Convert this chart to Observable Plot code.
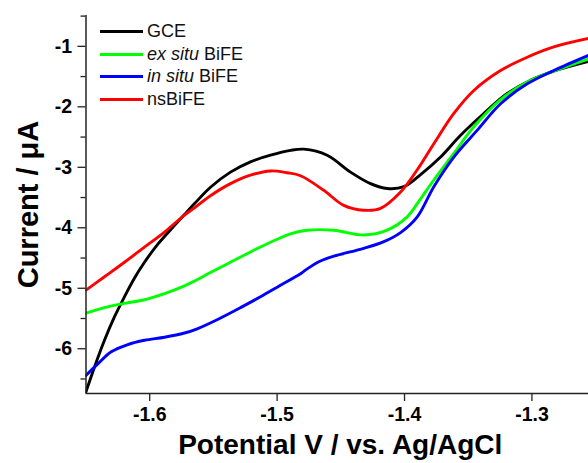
<!DOCTYPE html>
<html>
<head>
<meta charset="utf-8">
<script src="https://cdn.jsdelivr.net/npm/d3@7"></script>
<script src="https://cdn.jsdelivr.net/npm/@observablehq/plot@0.6"></script>
<style>
  html, body { margin: 0; padding: 0; background: #fff; }
  #wrap { position: relative; width: 588px; height: 463px; font-family: "Liberation Sans", Arial, sans-serif; }
  #legend { position: absolute; left: 100px; top: 20.5px; font-size: 18px; color: #111; }
  #legend .row { height: 22.5px; display: flex; align-items: center; }
  #legend .sw { width: 43px; height: 3px; margin-right: 4px; }
</style>
</head>
<body>
<div id="wrap"><div id="legend"></div></div>
<script>
// GCE
const gceV = [-1.65, -1.6433, -1.6355, -1.6276, -1.6198, -1.6119, -1.6041, -1.5936, -1.5831, -1.5727, -1.5648, -1.5523, -1.5366, -1.5209, -1.5052, -1.4895, -1.479, -1.4607, -1.4424, -1.4267, -1.4136, -1.4005, -1.3874, -1.3717, -1.356, -1.3378, -1.3194, -1.301, -1.2828, -1.2556];
const gceI = [-6.71, -6.30, -5.86, -5.47, -5.14, -4.83, -4.57, -4.27, -4.02, -3.78, -3.60, -3.33, -3.08, -2.91, -2.80, -2.72, -2.70, -2.80, -3.08, -3.27, -3.35, -3.32, -3.12, -2.83, -2.47, -2.11, -1.78, -1.56, -1.41, -1.25];
// ex situ BiFE
const exV = [-1.65, -1.6355, -1.6198, -1.6041, -1.5884, -1.5727, -1.5648, -1.5523, -1.5366, -1.5209, -1.5052, -1.4895, -1.4764, -1.4555, -1.432, -1.4136, -1.3979, -1.39, -1.377, -1.3613, -1.3456, -1.3246, -1.3037, -1.2828, -1.2556];
const exI = [-5.41, -5.32, -5.25, -5.19, -5.09, -4.96, -4.88, -4.74, -4.57, -4.40, -4.24, -4.10, -4.04, -4.04, -4.12, -4.04, -3.82, -3.60, -3.21, -2.77, -2.33, -1.88, -1.59, -1.41, -1.21];
// in situ BiFE
const inV = [-1.65, -1.6407, -1.6302, -1.6172, -1.6041, -1.5884, -1.5727, -1.5627, -1.5471, -1.5287, -1.513, -1.4974, -1.4816, -1.4764, -1.466, -1.4555, -1.432, -1.4162, -1.4031, -1.39, -1.377, -1.3613, -1.343, -1.3246, -1.3037, -1.2828, -1.2556];
const inI = [-6.44, -6.25, -6.05, -5.93, -5.86, -5.81, -5.74, -5.67, -5.52, -5.32, -5.14, -4.95, -4.76, -4.68, -4.55, -4.47, -4.34, -4.23, -4.08, -3.82, -3.32, -2.83, -2.39, -1.95, -1.62, -1.40, -1.15];
// nsBiFE
const nsV = [-1.65, -1.6355, -1.6198, -1.6041, -1.5884, -1.5727, -1.5648, -1.5523, -1.5366, -1.5209, -1.5052, -1.4921, -1.4816, -1.4634, -1.4477, -1.432, -1.4188, -1.4031, -1.39, -1.377, -1.3613, -1.3456, -1.3246, -1.3037, -1.2828, -1.2556];
const nsI = [-5.03, -4.81, -4.57, -4.32, -4.07, -3.79, -3.67, -3.47, -3.27, -3.13, -3.06, -3.09, -3.14, -3.38, -3.63, -3.71, -3.68, -3.41, -3.04, -2.61, -2.11, -1.73, -1.40, -1.18, -1.01, -0.87];

const seriesNames = ["GCE", "ex situ BiFE", "in situ BiFE", "nsBiFE"];
const seriesLabelsHTML = ["GCE", "<i>ex situ</i> BiFE", "<i>in situ</i> BiFE", "nsBiFE"];
const seriesColors = ["#000000", "#00ff00", "#0000ff", "#ff0000"];
const xTicks = [-1.6, -1.5, -1.4, -1.3];
const yTicks = [-1, -2, -3, -4, -5, -6];
const yMinorTicks = [-0.5, -1.5, -2.5, -3.5, -4.5, -5.5, -6.5];
const xDomain = [-1.65, -1.2556];
const yDomain = [-6.74, -0.49];

const build = (name, V, I) => V.map((v, i) => ({series: name, v, i: I[i]}));
const data = [
  ...build(seriesNames[0], gceV, gceI),
  ...build(seriesNames[1], exV, exI),
  ...build(seriesNames[2], inV, inI),
  ...build(seriesNames[3], nsV, nsI)
];

const font = "'Liberation Sans', Arial, sans-serif";
const plot = Plot.plot({
  width: 588,
  height: 463,
  marginLeft: 85.5,
  marginRight: 0,
  marginTop: 15,
  marginBottom: 70,
  style: {fontFamily: font, background: "transparent", overflow: "visible"},
  x: {domain: xDomain},
  y: {domain: yDomain},
  color: {domain: seriesNames, range: seriesColors},
  marks: [
    Plot.line(data, {x: "v", y: "i", z: "series", stroke: "series", strokeWidth: 2.9, curve: "catmull-rom", clip: true}),
    Plot.ruleX([xDomain[0]], {stroke: "#222", strokeWidth: 1.5}),
    Plot.ruleY([yDomain[0]], {stroke: "#222", strokeWidth: 1.5}),
    Plot.axisY({ticks: yTicks, tickSize: 8, tickPadding: 6, tickFormat: d => String(d), fontSize: 19.5, fontWeight: "bold", label: null, stroke: "#222", strokeWidth: 1.3, fill: "#000"}),
    Plot.axisY({ticks: yMinorTicks, tickSize: 5, text: null, label: null, stroke: "#222", strokeWidth: 1.3}),
    Plot.axisX({ticks: xTicks, tickSize: 8, tickPadding: 6, tickFormat: d => d.toFixed(1), fontSize: 19.5, fontWeight: "bold", label: null, stroke: "#222", strokeWidth: 1.3, fill: "#000"}),
    Plot.text(["Current / \u03bcA"], {frameAnchor: "left", dx: -57, dy: 0, rotate: -90, fontSize: 29, fontWeight: "bold", fill: "#000", textAnchor: "middle", lineAnchor: "middle"}),
    Plot.text(["Potential V / vs. Ag/AgCl"], {frameAnchor: "bottom", dx: 3, dy: 52, fontSize: 28, fontWeight: "bold", fill: "#000", textAnchor: "middle", lineAnchor: "middle"})
  ]
});
const wrap = document.getElementById("wrap");
wrap.insertBefore(plot, wrap.firstChild);

const legend = document.getElementById("legend");
seriesNames.forEach((n, k) => {
  const row = document.createElement("div");
  row.className = "row";
  row.innerHTML = `<span class="sw" style="background:${seriesColors[k]}"></span><span>${seriesLabelsHTML[k]}</span>`;
  legend.appendChild(row);
});
</script>
</body>
</html>
